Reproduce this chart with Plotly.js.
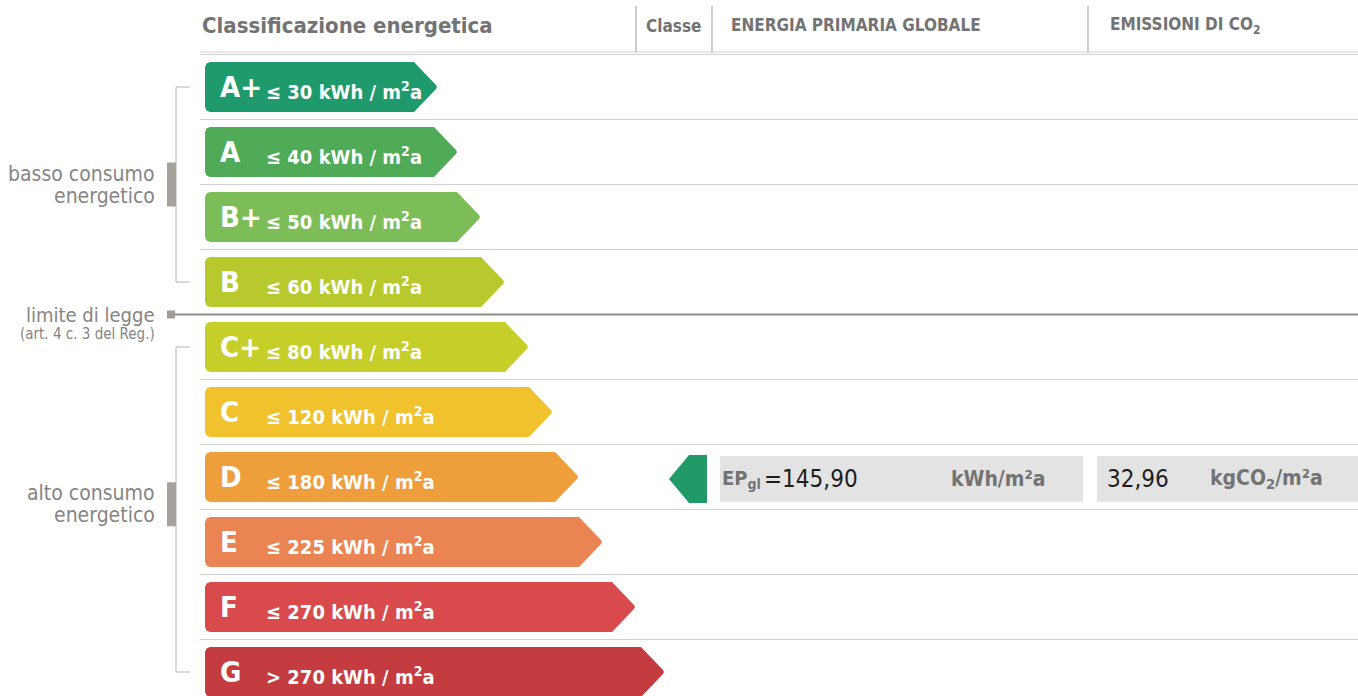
<!DOCTYPE html>
<html>
<head>
<meta charset="utf-8">
<script src="https://cdn.plot.ly/plotly-3.0.1.min.js"></script>
<style>html,body{margin:0;padding:0;background:#fff;}#chart{width:1358px;height:696px;}</style>
</head>
<body>
<div id="chart"></div>
<script>
// ---------------- DATA ----------------
const classes      = ['A+', 'A', 'B+', 'B', 'C+', 'C', 'D', 'E', 'F', 'G'];
const limitSymbols = ['≤', '≤', '≤', '≤', '≤', '≤', '≤', '≤', '≤', '>'];
const limitValues  = [30, 40, 50, 60, 80, 120, 180, 225, 270, 270];
const limitUnit    = 'kWh / m<sup>2</sup>a';
const currentClass = 'D';
const epLabel      = 'EP<sub>gl</sub>';
const epGlobal     = 145.90;
const epUnit       = 'kWh/m²a';
const co2Emission  = 32.96;
const co2Unit      = 'kgCO<sub>2</sub>/m²a';
const headerLabels = ['Classificazione energetica', 'Classe', 'ENERGIA PRIMARIA GLOBALE', 'EMISSIONI DI CO<sub>2</sub>'];
const groupLabels  = [['basso consumo', 'energetico'], ['alto consumo', 'energetico']];
const legalLabel   = 'limite di legge';
const legalNote    = '(art. 4 c. 3 del Reg.)';

// ---------------- STYLE ----------------
const colors   = ['#1f9a6c', '#4fab57', '#7dbd58', '#b7c92c', '#c6cf2a', '#f0c22e', '#ef9e3c', '#ea8452', '#d84a4b', '#c43c40'];
const arrowEnd = [437, 457, 480, 504, 528, 552, 578, 602, 635, 664]; // arrow tip x (pixel axis)
const FONT = "'DejaVu Sans Condensed', 'Liberation Sans Narrow', 'Arial Narrow', sans-serif";
const GREY = '#858585';
const HEAD = '#737373';
const W = 1358, H = 696;
const rowPx = 65, row0Px = 87;
const px = v => v / W;
const py = v => 1 - v / H;

const traces = [];
const shapes = [];
const ann = [];

function txt(o) {
  return Object.assign({showarrow: false, xanchor: 'left', yanchor: 'middle'}, o);
}

const hh = 25 / rowPx;   // half height of an arrow (row units)
const r = 5, ry = 5 / rowPx;

classes.forEach((c, i) => {
  const x0 = 205, x1 = arrowEnd[i], d = 21;
  const xs = [x0 + r, x1 - d - 2, x1 - 1, x1, x1 - 1, x1 - d - 2, x0 + r, x0 + 1.5, x0, x0, x0 + 1.5, x0 + r];
  const ys = [i - hh, i - hh, i - 0.03, i, i + 0.03, i + hh, i + hh, i + hh - ry * 0.3, i + hh - ry, i - hh + ry, i - hh + ry * 0.3, i - hh];
  traces.push({
    type: 'scatter', mode: 'lines', x: xs, y: ys, fill: 'toself',
    fillcolor: colors[i], line: {width: 0, color: colors[i]}, hoverinfo: 'skip', showlegend: false
  });
  ann.push(txt({xref: 'x', yref: 'y', x: 218, y: i + 0.0, text: c,
    font: {family: FONT, size: 29, color: '#ffffff', weight: 'bold'}}));
  ann.push(txt({xref: 'x', yref: 'y', x: 264, y: i + 0.06, text: limitSymbols[i] + ' ' + limitValues[i] + ' ' + limitUnit,
    font: {family: FONT, size: 20, color: '#ffffff', weight: 'bold'}}));
});

// row separators
for (let i = 0; i < classes.length; i++) {
  if (i === 4) continue;
  shapes.push({type: 'line', xref: 'x', yref: 'y', x0: 200, x1: W, y0: i - 0.5, y1: i - 0.5, line: {color: '#d0d0d0', width: 1}});
}
// legal limit line (between B and C+)
shapes.push({type: 'line', xref: 'x', yref: 'y', x0: 175, x1: W, y0: 3.5, y1: 3.5, line: {color: '#8c8c8c', width: 2}});
shapes.push({type: 'rect', xref: 'x', yref: 'y', x0: 167, x1: 175, y0: 3.5 - 4 / rowPx, y1: 3.5 + 4 / rowPx, fillcolor: '#a09b95', line: {width: 0}});
ann.push(txt({xref: 'paper', yref: 'y', x: px(157), y: 3.5, xanchor: 'right', text: legalLabel,
  font: {family: FONT, size: 20, color: GREY}}));
ann.push(txt({xref: 'paper', yref: 'y', x: px(157), y: 3.5 + 19 / rowPx, xanchor: 'right', text: legalNote,
  font: {family: FONT, size: 15, color: GREY}}));

// brackets
const brackets = [[0, 3, 1.5], [4, 9, 6.42]];
brackets.forEach((b, k) => {
  const [a, e, mid] = b;
  const lc = {color: '#b4b4b4', width: 1};
  shapes.push({type: 'line', xref: 'x', yref: 'y', x0: 176, x1: 176, y0: a, y1: e, line: lc});
  shapes.push({type: 'line', xref: 'x', yref: 'y', x0: 176, x1: 190, y0: a, y1: a, line: lc});
  shapes.push({type: 'line', xref: 'x', yref: 'y', x0: 176, x1: 190, y0: e, y1: e, line: lc});
  shapes.push({type: 'rect', xref: 'x', yref: 'y', x0: 167, x1: 176, y0: mid - 22 / rowPx, y1: mid + 22 / rowPx, fillcolor: '#a7a29c', line: {width: 0}});
  ann.push(txt({xref: 'paper', yref: 'y', x: px(157), y: mid - 11 / rowPx, xanchor: 'right', text: groupLabels[k][0],
    font: {family: FONT, size: 21, color: GREY}}));
  ann.push(txt({xref: 'paper', yref: 'y', x: px(157), y: mid + 11 / rowPx, xanchor: 'right', text: groupLabels[k][1],
    font: {family: FONT, size: 21, color: GREY}}));
});

// header
shapes.push({type: 'line', xref: 'x', yref: 'paper', x0: 200, x1: W, y0: py(52), y1: py(52), line: {color: '#d0d0d0', width: 1}});
[636, 712, 1088].forEach(xv => shapes.push({type: 'line', xref: 'x', yref: 'paper', x0: xv, x1: xv, y0: py(6), y1: py(52), line: {color: '#a0a0a0', width: 1}}));
ann.push(txt({xref: 'x', yref: 'paper', x: 200, y: py(25), text: headerLabels[0],
  font: {family: FONT, size: 22, color: HEAD, weight: 'bold'}}));
ann.push(txt({xref: 'x', yref: 'paper', x: 644, y: py(26), text: headerLabels[1],
  font: {family: FONT, size: 17, color: HEAD, weight: 'bold'}}));
ann.push(txt({xref: 'x', yref: 'paper', x: 729, y: py(25), text: headerLabels[2],
  font: {family: FONT, size: 17, color: HEAD, weight: 'bold'}}));
ann.push(txt({xref: 'x', yref: 'paper', x: 1108, y: py(25), text: headerLabels[3],
  font: {family: FONT, size: 17, color: HEAD, weight: 'bold'}}));

// current class indicator
const ci = classes.indexOf(currentClass) + 0.03;
const ih = 24 / rowPx;
traces.push({type: 'scatter', mode: 'lines', fill: 'toself', fillcolor: '#229a68', line: {width: 0, color: '#229a68'},
  x: [707, 707, 689, 669, 689, 707], y: [ci - ih, ci + ih, ci + ih, ci, ci - ih, ci - ih], hoverinfo: 'skip', showlegend: false});
shapes.push({type: 'rect', xref: 'x', yref: 'y', x0: 720, x1: 1083, y0: ci - 23 / rowPx, y1: ci + 23 / rowPx, fillcolor: '#e3e3e3', line: {width: 0}});
shapes.push({type: 'rect', xref: 'x', yref: 'y', x0: 1097, x1: W, y0: ci - 23 / rowPx, y1: ci + 23 / rowPx, fillcolor: '#e3e3e3', line: {width: 0}});
const fmt = v => v.toFixed(2).replace('.', ',');
ann.push(txt({xref: 'x', yref: 'y', x: 720, y: ci, text: epLabel,
  font: {family: FONT, size: 20, color: HEAD, weight: 'bold'}}));
ann.push(txt({xref: 'x', yref: 'y', x: 762, y: ci, text: '=' + fmt(epGlobal),
  font: {family: FONT, size: 24, color: '#1e1e1e'}}));
ann.push(txt({xref: 'x', yref: 'y', x: 949, y: ci, text: epUnit,
  font: {family: FONT, size: 21, color: HEAD, weight: 'bold'}}));
ann.push(txt({xref: 'x', yref: 'y', x: 1105, y: ci, text: fmt(co2Emission),
  font: {family: FONT, size: 24, color: '#1e1e1e'}}));
ann.push(txt({xref: 'x', yref: 'y', x: 1208, y: ci, text: co2Unit,
  font: {family: FONT, size: 21, color: HEAD, weight: 'bold'}}));

const yTop = -row0Px / rowPx;
const layout = {
  width: W, height: H, margin: {l: 0, r: 0, t: 0, b: 0},
  paper_bgcolor: '#ffffff', plot_bgcolor: '#ffffff', showlegend: false,
  xaxis: {range: [0, W], visible: false, fixedrange: true},
  yaxis: {range: [yTop + H / rowPx, yTop], visible: false, fixedrange: true},
  shapes: shapes, annotations: ann
};
Plotly.newPlot('chart', traces, layout, {displayModeBar: false, staticPlot: true});
</script>
</body>
</html>
